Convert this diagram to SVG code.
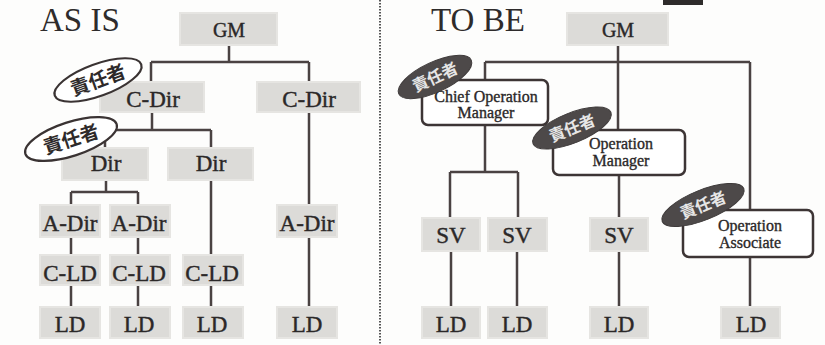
<svg xmlns="http://www.w3.org/2000/svg" width="825" height="345" viewBox="0 0 825 345">
<style>
.bg{fill:#fdfdfc}
.box{fill:#dcdbd8;stroke:#e6e5e2;stroke-width:2}
.rbox{fill:#ffffff;stroke:#3d3535;stroke-width:2.5}
.lbl{font-family:"Liberation Serif",Times,serif;font-size:23px;fill:#2b2828;stroke:#2b2828;stroke-width:0.4;text-anchor:middle}
.gm{font-size:20px}
.sm{font-family:"Liberation Serif",Times,serif;font-size:16px;fill:#2b2828;stroke:#2b2828;stroke-width:0.35;text-anchor:middle}
.title{font-family:"Liberation Serif",Times,serif;font-size:33px;fill:#2e2b2b}
.ln{stroke:#4a4242;stroke-width:2.5;fill:none}
.ew{fill:#ffffff;stroke:#3a3333;stroke-width:2.2}
.ed{fill:#4d4949;stroke:#3f3b3b;stroke-width:1}
.jw{font-family:"Noto Sans CJK JP","Noto Sans CJK SC",sans-serif;font-weight:bold;font-size:19px;fill:#2e2a2a;text-anchor:middle}
.jd{font-family:"Noto Sans CJK JP","Noto Sans CJK SC",sans-serif;font-weight:bold;font-size:16px;fill:#e6e6e6;text-anchor:middle}
</style>
<rect class="bg" x="0" y="0" width="825" height="345"/>
<rect x="663" y="0" width="40" height="5" fill="#2e2b2b"/>
<line x1="380" y1="0" x2="380" y2="345" stroke="#555" stroke-width="2" stroke-dasharray="1.5 1.5"/>
<text class="title" x="40" y="31">AS IS</text>
<text class="title" x="431" y="31">TO BE</text>

<g id="connectors">
<path class="ln" d="M229 45V62M151 62H309M151 62V82M309 62V82"/>
<path class="ln" d="M152 112V130M105 130H211M105 130V148M211 130V148"/>
<path class="ln" d="M106 180V192M71 192H138M71 192V205M138 192V205"/>
<path class="ln" d="M71 237V255M138 237V255M71 285V307M138 285V307"/>
<path class="ln" d="M211 180V255M211 285V307"/>
<path class="ln" d="M309 112V205M309 237V307"/>
<path class="ln" d="M618 45V130M485 62H750M485 62V80"/>
<path class="ln" d="M485 125V172M450 172H518M450 172V218M518 172V218"/>
<path class="ln" d="M451 251V307M517 251V307"/>
<path class="ln" d="M619 175V218M619 251V307"/>
<path class="ln" d="M750 62V210M750 257V307"/>
</g>

<g id="asis-gm"><rect class="box" x="180" y="13" width="97" height="32"/><text class="lbl gm" x="229" y="37">GM</text></g>
<g id="asis-cdir1"><rect class="box" x="100" y="82" width="104" height="30"/><text class="lbl" x="153" y="107">C-Dir</text></g>
<g id="asis-cdir2"><rect class="box" x="257" y="82" width="103" height="30"/><text class="lbl" x="309" y="107">C-Dir</text></g>
<g id="asis-dir1"><rect class="box" x="62" y="148" width="86" height="32"/><text class="lbl" x="106" y="171">Dir</text></g>
<g id="asis-dir2"><rect class="box" x="168" y="148" width="85" height="32"/><text class="lbl" x="211" y="171">Dir</text></g>
<g id="asis-adir1"><rect class="box" x="40" y="205" width="60" height="32"/><text class="lbl" x="70" y="231">A-Dir</text></g>
<g id="asis-adir2"><rect class="box" x="110" y="205" width="60" height="32"/><text class="lbl" x="139" y="231">A-Dir</text></g>
<g id="asis-adir3"><rect class="box" x="277" y="205" width="60" height="32"/><text class="lbl" x="307" y="231">A-Dir</text></g>
<g id="asis-cld1"><rect class="box" x="40" y="255" width="60" height="30"/><text class="lbl" x="70" y="281">C-LD</text></g>
<g id="asis-cld2"><rect class="box" x="110" y="255" width="60" height="30"/><text class="lbl" x="139" y="281">C-LD</text></g>
<g id="asis-cld3"><rect class="box" x="183" y="255" width="60" height="30"/><text class="lbl" x="212" y="281">C-LD</text></g>
<g id="asis-ld1"><rect class="box" x="40" y="307" width="60" height="31"/><text class="lbl" x="70" y="332">LD</text></g>
<g id="asis-ld2"><rect class="box" x="110" y="307" width="60" height="31"/><text class="lbl" x="139" y="332">LD</text></g>
<g id="asis-ld3"><rect class="box" x="183" y="307" width="60" height="31"/><text class="lbl" x="212" y="332">LD</text></g>
<g id="asis-ld4"><rect class="box" x="277" y="307" width="60" height="31"/><text class="lbl" x="307" y="332">LD</text></g>
<g id="asis-tag1"><ellipse class="ew" cx="98" cy="80" rx="46" ry="16" transform="rotate(-20 98 80)"/><text class="jw" x="98" y="87" transform="rotate(-20 98 80)">責任者</text></g>
<g id="asis-tag2"><ellipse class="ew" cx="71" cy="139" rx="48" ry="17" transform="rotate(-18 71 139)"/><text class="jw" x="71" y="146" transform="rotate(-18 71 139)">責任者</text></g>

<g id="tobe-gm"><rect class="box" x="567" y="13" width="101" height="32"/><text class="lbl gm" x="618" y="37">GM</text></g>
<g id="tobe-com"><rect class="rbox" x="422" y="80" width="126" height="45" rx="6"/><text class="sm" x="486" y="102">Chief Operation</text><text class="sm" x="486" y="118">Manager</text></g>
<g id="tobe-om"><rect class="rbox" x="553" y="130" width="132" height="45" rx="6"/><text class="sm" x="621" y="149">Operation</text><text class="sm" x="621" y="166">Manager</text></g>
<g id="tobe-oa"><rect class="rbox" x="683" y="210" width="130" height="47" rx="6"/><text class="sm" x="750" y="231">Operation</text><text class="sm" x="750" y="248">Associate</text></g>
<g id="tobe-sv1"><rect class="box" x="422" y="218" width="58" height="33"/><text class="lbl" x="451" y="243">SV</text></g>
<g id="tobe-sv2"><rect class="box" x="488" y="218" width="59" height="33"/><text class="lbl" x="517" y="243">SV</text></g>
<g id="tobe-sv3"><rect class="box" x="590" y="218" width="58" height="33"/><text class="lbl" x="619" y="243">SV</text></g>
<g id="tobe-ld1"><rect class="box" x="422" y="307" width="58" height="31"/><text class="lbl" x="451" y="332">LD</text></g>
<g id="tobe-ld2"><rect class="box" x="488" y="307" width="59" height="31"/><text class="lbl" x="517" y="332">LD</text></g>
<g id="tobe-ld3"><rect class="box" x="590" y="307" width="58" height="31"/><text class="lbl" x="619" y="332">LD</text></g>
<g id="tobe-ld4"><rect class="box" x="721" y="307" width="59" height="31"/><text class="lbl" x="751" y="332">LD</text></g>
<g id="tobe-tag1"><ellipse class="ed" cx="435" cy="77" rx="40" ry="15" transform="rotate(-25 435 77)"/><text class="jd" x="435" y="83" transform="rotate(-25 435 77)">責任者</text></g>
<g id="tobe-tag2"><ellipse class="ed" cx="572" cy="128" rx="42" ry="15" transform="rotate(-22 572 128)"/><text class="jd" x="572" y="134" transform="rotate(-22 572 128)">責任者</text></g>
<g id="tobe-tag3"><ellipse class="ed" cx="703" cy="205" rx="44" ry="15" transform="rotate(-22 703 205)"/><text class="jd" x="703" y="211" transform="rotate(-22 703 205)">責任者</text></g>
</svg>
